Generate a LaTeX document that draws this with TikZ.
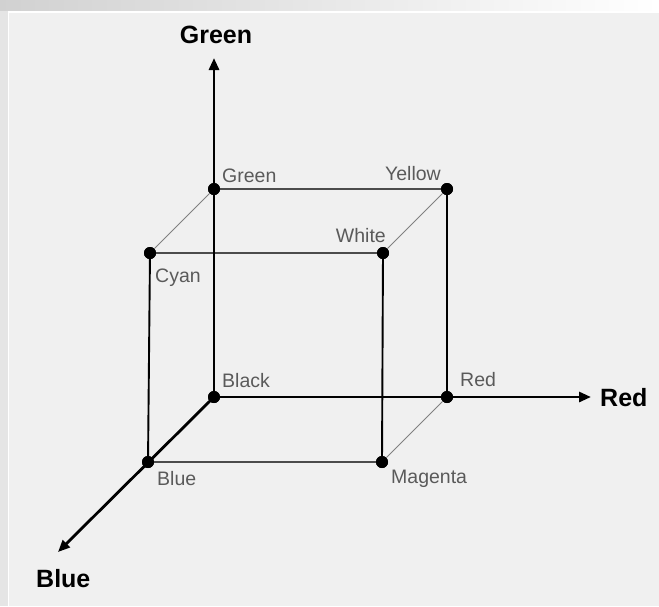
\documentclass[tikz,border=0pt]{standalone}
\usepackage{fontspec}
\setmainfont{Liberation Sans}
\usetikzlibrary{arrows.meta}
\definecolor{panel}{HTML}{F0F0F0}
\definecolor{cornertext}{HTML}{5A5A5A}

\begin{document}
\begin{tikzpicture}[
  x=1pt, y=-1pt,
  dot/.style={circle, fill=black, inner sep=0pt, minimum size=12pt},
  lbl/.style={font=\fontsize{19.5}{19.5}\selectfont, text=cornertext, inner sep=0pt},
  axlbl/.style={font=\fontsize{25}{25}\selectfont\bfseries, inner sep=0pt},
  axisline/.style={line width=2.8pt, -{Triangle[length=12pt,width=10pt]}},
  front/.style={line width=1.9pt},
  edge/.style={line width=1.3pt, black!70},
  diag/.style={line width=0.9pt, black!50}
]
% ===== Background panel =====
\useasboundingbox (0,0) rectangle (659,606);
\fill[panel] (0,0) rectangle (659,606);
\shade[left color=black!18, right color=white] (0,0) rectangle (659,11);
\fill[black!10] (0,11) rectangle (8,606);
\draw[white, line width=1.5pt] (8,12) -- (659,12);
\draw[white, line width=1pt] (8,12) -- (8,606);

% ===== Cube corners =====
\node[dot] (black)   at (214,397) {};
\node[dot] (green)   at (214,189) {};
\node[dot] (yellow)  at (447,189) {};
\node[dot] (red)     at (447,397) {};
\node[dot] (cyan)    at (150,253) {};
\node[dot] (white)   at (383,253) {};
\node[dot] (blue)    at (148,462) {};
\node[dot] (magenta) at (382,462) {};

% ===== Axis ends =====
\coordinate (gend) at (214,58);
\coordinate (rend) at (591,397);
\coordinate (bend) at (58,552);

% ===== Edges =====
\draw[diag] (green) -- (cyan);
\draw[diag] (yellow) -- (white);
\draw[diag] (red) -- (magenta);
\draw[edge] (green) -- (yellow);
\draw[edge] (cyan) -- (white);
\draw[edge] (blue) -- (magenta);
\draw[front] (cyan) -- (blue);
\draw[front] (white) -- (magenta);
\draw[front] (yellow) -- (red);
\draw[axisline] (black.center) -- (gend);
\draw[axisline] (black.center) -- (rend);
\draw[axisline] (black.center) -- (bend);

% dots again, over the axes
\foreach \c in {black,green,yellow,red,cyan,white,blue,magenta}
  \fill (\c.center) circle (6pt);

% ===== Corner labels =====
\node[lbl, anchor=base west] (lgreen)   at (222,182) {Green};
\node[lbl, anchor=base east] (lyellow)  at (441,180) {Yellow};
\node[lbl, anchor=base east] (lwhite)   at (386,242) {White};
\node[lbl, anchor=base west] (lcyan)    at (155,282) {Cyan};
\node[lbl, anchor=base west] (lblack)   at (222,387) {Black};
\node[lbl, anchor=base west] (lred)     at (460,386) {Red};
\node[lbl, anchor=base west] (lblue)    at (157,485) {Blue};
\node[lbl, anchor=base west] (lmagenta) at (391,483) {Magenta};

% ===== Axis labels =====
\node[axlbl, anchor=base] (agreen) at (216,43) {Green};
\node[axlbl, anchor=base west] (ared) at (600,406) {Red};
\node[axlbl, anchor=base west] (ablue) at (36,587) {Blue};
\end{tikzpicture}
\end{document}
